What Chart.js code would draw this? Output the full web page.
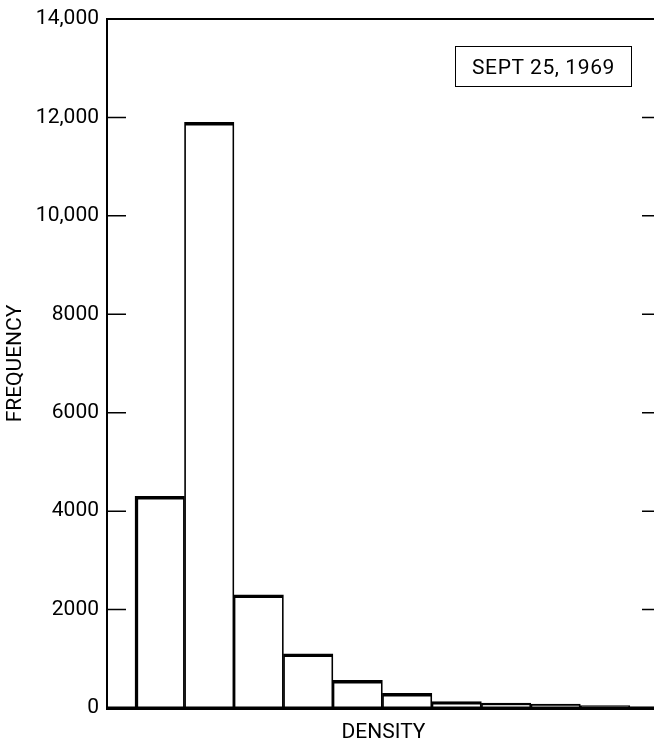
<!DOCTYPE html>
<html>
<head>
<meta charset="utf-8">
<script src="https://cdn.jsdelivr.net/npm/chart.js@4/dist/chart.umd.min.js"></script>
<style>
  html, body { margin: 0; padding: 0; background: #fff; overflow: hidden; }
  #wrap { position: relative; width: 654px; height: 743px; overflow: hidden; }
  canvas { position: absolute; left: 0; top: 0; }
  #stamp {
    position: absolute; left: 455px; top: 46px; width: 177px; height: 41px;
    border: 1.5px solid #000; box-sizing: border-box;
    font: 21px Roboto, sans-serif;
    letter-spacing: 0.6px; color: #000;
    display: flex; align-items: center; justify-content: center;
  }
</style>
</head>
<body>
<div id="wrap">
  <canvas id="c" width="700" height="743"></canvas>
  <div id="stamp">SEPT 25, 1969</div>
</div>
<script>
// 밀도 구간(1..11)별 빈도 — 그림에서 읽은 값
const densityBins = [1, 2, 3, 4, 5, 6, 7, 8, 9, 10, 11];
const frequency = [4300, 11900, 2300, 1100, 560, 300, 130, 100, 80, 50, 20];
const yTicks = [0, 2000, 4000, 6000, 8000, 10000, 12000, 14000];

const FONT = "Roboto, sans-serif";

// 위·아래 테두리와 안쪽으로 향한 눈금(왼쪽·오른쪽)을 직접 그린다
const framePlugin = {
  id: "frame",
  afterDatasetsDraw(chart) {
    const { ctx, chartArea: a, scales } = chart;
    ctx.save();
    ctx.strokeStyle = "#000";
    ctx.lineWidth = 2;
    ctx.beginPath();
    ctx.moveTo(a.left - 1, a.top);
    ctx.lineTo(a.right, a.top);
    ctx.stroke();
    // 막대의 흰 바탕이 가로축을 덮지 않게 다시 긋는다
    ctx.lineWidth = 3;
    ctx.beginPath();
    ctx.moveTo(a.left - 1, a.bottom);
    ctx.lineTo(a.right, a.bottom);
    ctx.stroke();
    ctx.lineWidth = 1.5;
    for (const v of yTicks) {
      if (v === 0 || v === 14000) continue;
      const y = scales.y.getPixelForValue(v);
      ctx.beginPath();
      ctx.moveTo(a.left, y);
      ctx.lineTo(a.left + 19, y);
      ctx.moveTo(a.right - 18, y);
      ctx.lineTo(a.right, y);
      ctx.stroke();
    }
    ctx.restore();
  },
};

new Chart(document.getElementById("c"), {
  type: "bar",
  data: {
    datasets: [{
      data: densityBins.map((b, i) => ({ x: b, y: frequency[i] })),
      backgroundColor: "#fff",
      borderColor: "#000",
      borderWidth: (c) => ({ top: 3.5, left: c.dataIndex === 0 ? 3.5 : 1.75, right: 1.75, bottom: 0 }),
      borderSkipped: "start",
      barPercentage: 1,
      categoryPercentage: 1,
    }],
  },
  options: {
    responsive: false,
    animation: false,
    layout: { padding: { top: 19, right: 40, left: 0, bottom: 0 } },
    plugins: { legend: { display: false }, tooltip: { enabled: false } },
    scales: {
      x: {
        type: "linear",
        offset: false,
        min: -0.066,
        max: 11.11,
        grid: { display: false },
        border: { display: true, color: "#000", width: 3 },
        ticks: { display: false },
        title: {
          display: true, text: "DENSITY", color: "#000",
          font: { family: FONT, size: 21, lineHeight: 1 }, padding: 0,
        },
        afterFit(scale) { scale.height = 35; },
      },
      y: {
        min: 0,
        max: 14000,
        afterBuildTicks(scale) { scale.ticks = yTicks.map((v) => ({ value: v })); },
        grid: { display: false },
        border: { display: true, color: "#000", width: 2 },
        ticks: {
          color: "#000",
          padding: 0,
          font: { family: FONT, size: 21 },
          callback: (v) => (v >= 10000 ? v.toLocaleString("en-US") : String(v)),
        },
        title: {
          display: true, text: "FREQUENCY", color: "#000",
          font: { family: FONT, size: 21, lineHeight: 1.2 }, padding: { top: 3, bottom: 0 },
        },
        afterFit(scale) { scale.width = 107; },
      },
    },
  },
  plugins: [framePlugin],
});
</script>
</body>
</html>
